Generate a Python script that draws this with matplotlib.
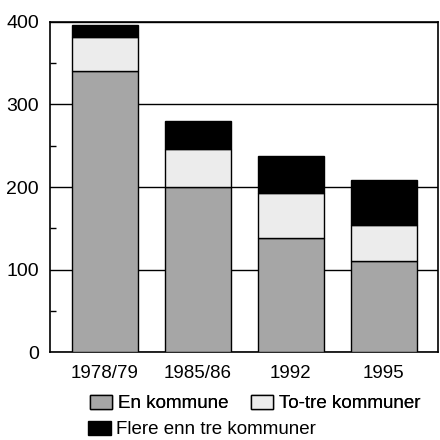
import numpy as np
import matplotlib.pyplot as plt
from matplotlib.patches import Patch

# data
years = ['1978/79', '1985/86', '1992', '1995']
en = [341, 200, 138, 110]
totre = [41, 46, 55, 44]
flere = [14, 34, 45, 54]

plt.rcParams['font.family'] = ['Liberation Sans', 'DejaVu Sans']

fig = plt.figure(figsize=(4.4, 4.4), dpi=100)
ax = fig.add_axes([0.114, 0.2, 0.881, 0.75])

x = np.arange(len(years))
w = 0.71
c_en = '#a6a6a6'
c_to = '#ececec'
c_fl = '#000000'

ax.bar(x, en, width=w, color=c_en, edgecolor='black', linewidth=1, zorder=3)
ax.bar(x, totre, bottom=en, width=w, color=c_to, edgecolor='black', linewidth=1, zorder=3)
bot2 = np.array(en) + np.array(totre)
ax.bar(x, flere, bottom=bot2, width=w, color=c_fl, edgecolor='black', linewidth=1, zorder=3)

ax.set_xlim(-0.59, 3.58)
ax.set_ylim(0, 400)
ax.set_yticks([0, 100, 200, 300, 400])
ax.set_yticks([50, 150, 250, 350], minor=True)
ax.yaxis.grid(True, color='black', linewidth=1, zorder=0)
ax.tick_params(axis='y', which='major', length=0, pad=8, labelsize=14)
ax.tick_params(axis='y', which='minor', direction='in', length=4, width=1)
ax.set_xticks(x)
ax.set_xticklabels(years)
ax.tick_params(axis='x', length=0, pad=9, labelsize=13.5)
for s in ax.spines.values():
    s.set_linewidth(1.2)

# legend, row 1 and row 2
kw = dict(frameon=False, fontsize=13.5, handlelength=1.2, handleheight=0.8,
          handletextpad=0.3, borderpad=0, borderaxespad=0, loc='upper left')
leg1 = fig.legend([Patch(facecolor=c_en, edgecolor='black'),
                   Patch(facecolor=c_to, edgecolor='black')],
                  ['En kommune', 'To-tre kommuner'], ncol=2, columnspacing=1.2,
                  bbox_to_anchor=(0.204, 0.103), **kw)
fig.add_artist(leg1)
fig.legend([Patch(facecolor=c_fl, edgecolor='black')],
           ['Flere enn tre kommuner'], bbox_to_anchor=(0.2, 0.044), **kw)

fig.savefig('out.png', dpi=100)
